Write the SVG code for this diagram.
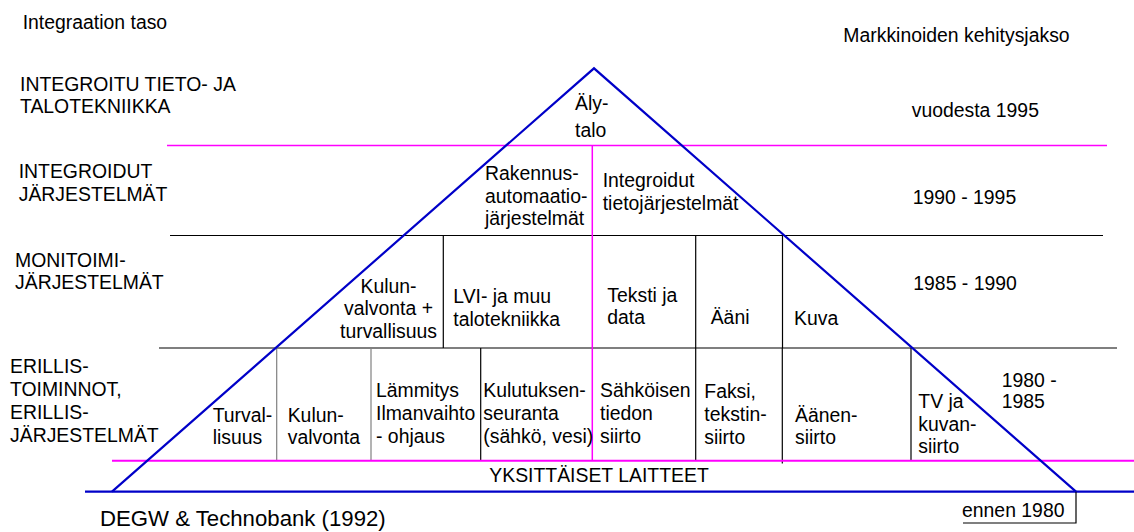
<svg xmlns="http://www.w3.org/2000/svg" width="1134" height="532" viewBox="0 0 1134 532">
<style>
text { font-family: "Liberation Sans", Arial, sans-serif; font-size: 19.4px; fill: #000; }
.big { font-size: 22.2px; }
.mid { text-anchor: middle; }
.blk { stroke: #000; stroke-width: 1.2; fill: none; }
.gry { stroke: #808080; stroke-width: 1.2; fill: none; }
.pnk { stroke: #ff00ff; stroke-width: 1.5; fill: none; }
.pnk2 { stroke: #ff00ff; stroke-width: 2; fill: none; }
.blu { stroke: #0000c8; stroke-width: 2.2; fill: none; }
</style>
<rect width="1134" height="532" fill="#fff"/>
<g id="connectors">
  <line class="pnk" x1="167" y1="145.5" x2="1107" y2="145.5"/>
  <line class="blk" x1="170" y1="235.5" x2="1103" y2="235.5"/>
  <line class="blk" x1="159" y1="348" x2="1117" y2="348"/>
  <line class="blk" x1="443.3" y1="235.5" x2="443.3" y2="348"/>
  <line class="blk" x1="695.7" y1="235.5" x2="695.7" y2="348"/>
  <line class="blk" x1="782.5" y1="235.5" x2="782.5" y2="348"/>
  <line class="gry" x1="276.7" y1="348" x2="276.7" y2="460.5"/>
  <line class="gry" x1="371" y1="348" x2="371" y2="460.5"/>
  <line class="blk" x1="480.7" y1="348" x2="480.7" y2="460.5"/>
  <line class="blk" x1="695.7" y1="348" x2="695.7" y2="460.5"/>
  <line class="blk" x1="782.3" y1="348" x2="782.3" y2="463.5"/>
  <line class="blk" x1="911" y1="348" x2="911" y2="460.5"/>
  <line class="pnk" x1="592.3" y1="145.5" x2="592.3" y2="460.5"/>
  <line class="pnk2" x1="112" y1="460.7" x2="1134" y2="460.7"/>
  <line class="blu" x1="85" y1="491.7" x2="1134" y2="491.7"/>
  <polyline class="blu" points="112,491.7 594,68.3 1076,491.7"/>
  <polyline class="blk" points="1076,491.7 1076,523 963,523"/>
</g>
<g id="axis-titles">
  <text x="22.7" y="29.3">Integraation taso</text>
  <text x="843.3" y="41.7">Markkinoiden kehitysjakso</text>
</g>
<g id="level-1"><text x="20" y="90.7">INTEGROITU TIETO- JA</text><text x="20" y="113.3">TALOTEKNIIKKA</text></g>
<g id="level-2"><text x="18.7" y="178.3">INTEGROIDUT</text><text x="18.7" y="201">JÄRJESTELMÄT</text></g>
<g id="level-3"><text x="15" y="267.3">MONITOIMI-</text><text x="15" y="289.3">JÄRJESTELMÄT</text></g>
<g id="level-4"><text x="10" y="372.7">ERILLIS-</text><text x="10" y="395.7">TOIMINNOT,</text><text x="10" y="418.7">ERILLIS-</text><text x="10" y="441.7">JÄRJESTELMÄT</text></g>
<g id="period-1"><text x="911.7" y="116.7">vuodesta 1995</text></g>
<g id="period-2"><text x="912.7" y="204">1990 - 1995</text></g>
<g id="period-3"><text x="913.3" y="290">1985 - 1990</text></g>
<g id="period-4"><text x="1001.7" y="386.7">1980 -</text><text x="1001.7" y="408.3">1985</text></g>
<g id="period-5"><text x="962" y="517">ennen 1980</text></g>
<g id="alytalo"><text x="575" y="110">Äly-</text><text x="575" y="136.7">talo</text></g>
<g id="rakennusautomaatio"><text x="485" y="180">Rakennus-</text><text x="485" y="203.3">automaatio-</text><text x="485" y="225">järjestelmät</text></g>
<g id="tietojarjestelmat"><text x="602.7" y="187.3">Integroidut</text><text x="602.7" y="210">tietojärjestelmät</text></g>
<g id="kulunvalvonta-turvallisuus"><text class="mid" x="388.5" y="292.5">Kulun-</text><text class="mid" x="388.5" y="315">valvonta +</text><text class="mid" x="388.5" y="337.5">turvallisuus</text></g>
<g id="lvi"><text x="453.3" y="303.3">LVI- ja muu</text><text x="453.3" y="326">talotekniikka</text></g>
<g id="teksti-data"><text x="607.3" y="301.7">Teksti ja</text><text x="607.3" y="324">data</text></g>
<g id="aani"><text x="710.7" y="324">Ääni</text></g>
<g id="kuva"><text x="794" y="325">Kuva</text></g>
<g id="turvallisuus"><text x="212.7" y="421.7">Turval-</text><text x="212.7" y="444">lisuus</text></g>
<g id="kulunvalvonta"><text x="287.7" y="421.7">Kulun-</text><text x="287.7" y="444">valvonta</text></g>
<g id="lammitys"><text x="376" y="397.3">Lämmitys</text><text x="376" y="420">Ilmanvaihto</text><text x="376" y="443">- ohjaus</text></g>
<g id="kulutuksenseuranta"><text x="483.3" y="397.3">Kulutuksen-</text><text x="483.3" y="420">seuranta</text><text x="483.3" y="443">(sähkö, vesi)</text></g>
<g id="sahkoinen-tiedonsiirto"><text x="600" y="397.3">Sähköisen</text><text x="600" y="420">tiedon</text><text x="600" y="443">siirto</text></g>
<g id="faksi"><text x="704.3" y="398.3">Faksi,</text><text x="704.3" y="421">tekstin-</text><text x="704.3" y="443.7">siirto</text></g>
<g id="aanensiirto"><text x="795" y="421.7">Äänen-</text><text x="795" y="444">siirto</text></g>
<g id="tv-kuvansiirto"><text x="918.3" y="408.3">TV ja</text><text x="918.3" y="430.7">kuvan-</text><text x="918.3" y="453.3">siirto</text></g>
<g id="yksittaiset-laitteet"><text x="489.3" y="481.7">YKSITTÄISET LAITTEET</text></g>
<g id="source"><text class="big" x="100" y="526">DEGW &amp; Technobank (1992)</text></g>
</svg>
